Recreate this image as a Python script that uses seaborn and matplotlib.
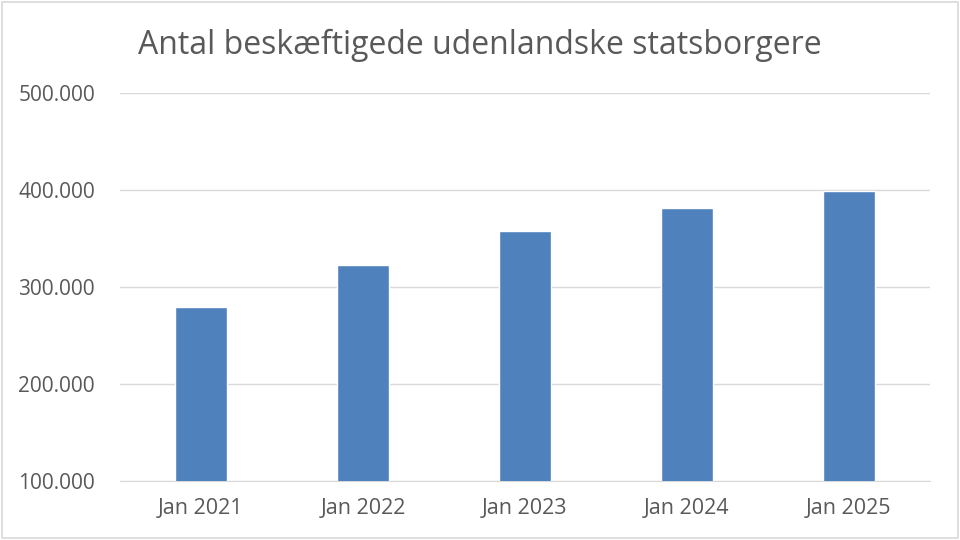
import seaborn as sns
import numpy as np
import pandas as pd
import matplotlib
import matplotlib.pyplot as plt
from matplotlib.ticker import FuncFormatter

matplotlib.use("Agg")

maaneder = ["Jan 2021", "Jan 2022", "Jan 2023", "Jan 2024", "Jan 2025"]
beskaeftigede = [279600, 322500, 357600, 381800, 399400]
y_ticks = [100000, 200000, 300000, 400000, 500000]

df = pd.DataFrame({"maaned": maaneder, "antal": beskaeftigede})

sns.set_style("white")
plt.rcParams["font.family"] = ["Open Sans", "DejaVu Sans"]

fig = plt.figure(figsize=(9.6, 5.4), dpi=100)
ax = fig.add_axes([120 / 960, 1 - 481 / 540, 810 / 960, 388 / 540])

sns.barplot(data=df, x="maaned", y="antal", order=maaneder, color="#4f81bd",
            saturation=1, width=0.315, ax=ax, zorder=3)

ax.set_ylim(100000, 500000)
ax.set_xlim(-0.5, len(maaneder) - 0.5)
ax.set_yticks(y_ticks)
ax.yaxis.set_major_formatter(FuncFormatter(lambda v, p: f"{int(v):,}".replace(",", ".")))
ax.grid(axis="y", color="#d9d9d9", linewidth=1, zorder=0)
for s in ax.spines.values():
    s.set_visible(False)
ax.spines["bottom"].set_visible(True)
ax.spines["bottom"].set_color("#d9d9d9")
ax.tick_params(axis="both", length=0, labelcolor="#595959")
ax.tick_params(axis="y", pad=18, labelsize=15)
ax.tick_params(axis="x", pad=12, labelsize=15.5)
ax.set_xlabel("")
ax.set_ylabel("")

fig.text(0.5, 1 - 45 / 540, "Antal beskæftigede udenlandske statsborgere",
         ha="center", va="center", fontsize=23, color="#595959")

# ramme rundt om diagrammet
fig.patches.append(plt.Rectangle((0.002, 0.003), 0.996, 0.994, transform=fig.transFigure,
                                 fill=False, edgecolor="#d9d9d9", linewidth=1.2))

fig.savefig("out.png", dpi=100)
